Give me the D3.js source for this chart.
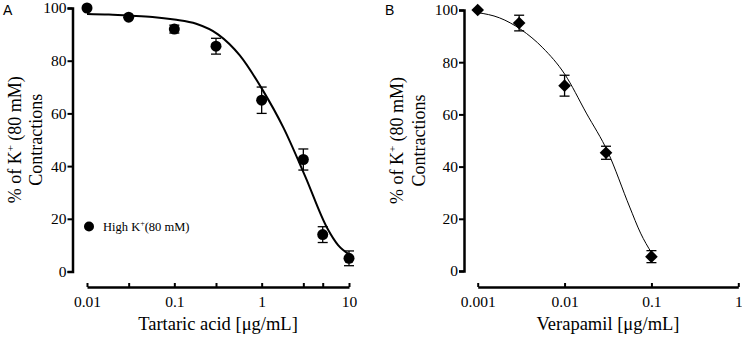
<!DOCTYPE html>
<html>
<head>
<meta charset="utf-8">
<script src="https://d3js.org/d3.v7.min.js"></script>
<style>
  body { margin: 0; background: #fff; }
  svg { display: block; }
  text { font-family: "Liberation Serif", "Times New Roman", serif; fill: #000; }
</style>
</head>
<body>
<svg id="drawing_region"></svg>
<script>
// panel A: tartaric acid against high K+ (80 mM)
const tartaricConc = [0.01, 0.03, 0.1, 0.3, 1, 3, 5, 10];
const tartaricMean = [100, 96.5, 92, 85.5, 65, 42.5, 14, 5];
const tartaricSem  = [0, 0, 1.5, 3, 5, 4, 3, 2.8];
// fitted curve
const tartaricCurveX = [0.01, 0.0178, 0.0316, 0.0562, 0.1, 0.178, 0.316, 0.562, 1, 1.78, 3.16, 5.62, 7.5, 10];
const tartaricCurveY = [97.7, 97.5, 97.1, 96.6, 95.6, 94, 90, 82, 69.5, 54.5, 36, 16.5, 10, 6.5];
const tartaricTicks  = [0.01, 0.03, 0.1, 0.3, 1, 3, 5, 10];
const tartaricLabels = [0.01, 0.1, 1, 10];

// panel B: verapamil
const verapamilConc = [0.001, 0.003, 0.01, 0.03, 0.1];
const verapamilMean = [100, 95, 71, 45.3, 5.5];
const verapamilSem  = [0, 3, 4, 2.5, 2.3];
const verapamilCurveX = [0.001, 0.00178, 0.00316, 0.00562, 0.01, 0.0178, 0.0316, 0.0562, 0.075, 0.1];
const verapamilCurveY = [99, 97, 92.5, 85.5, 75.5, 60.5, 45.5, 24.5, 14.5, 7];
const verapamilTicks  = [0.001, 0.01, 0.1, 1];
const verapamilLabels = [0.001, 0.01, 0.1, 1];

const yTicks = [0, 20, 40, 60, 80, 100];

const svg = d3.select('#drawing_region')
    .attr('width', 742)
    .attr('height', 338);

class DosePlot {

    constructor( config, data, curve ) {
        this.config = config;
        this.data = data;
        this.curve = curve;
        this.init();
    }

    init() {
        let self = this;
        const c = self.config;

        self.g = svg.append('g');

        self.xscale = d3.scaleLog()
            .domain( c.xdomain )
            .range( [c.left, c.right] );

        self.yscale = d3.scaleLinear()
            .domain( [0, 100] )
            .range( [c.bottom, c.top] );

        // panel letter
        self.g.append('text')
            .attr('x', c.letterX)
            .attr('y', 15)
            .style('font-family', '"Liberation Sans", Arial, sans-serif')
            .style('font-size', '14px')
            .text(c.letter);

        // y label, two lines
        const ymid = (c.top + c.bottom) / 2;
        const yl1 = self.g.append('text')
            .attr('transform', `translate(${c.ylabelX1}, ${ymid}) rotate(-90)`)
            .attr('text-anchor', 'middle')
            .style('font-size', '18px');
        yl1.append('tspan').text('% of K');
        yl1.append('tspan').attr('dy', -7).style('font-size', '11px').text('+');
        yl1.append('tspan').attr('dy', 7).text(' (80 mM)');

        self.g.append('text')
            .attr('transform', `translate(${c.ylabelX2}, ${ymid}) rotate(-90)`)
            .attr('text-anchor', 'middle')
            .style('font-size', '18px')
            .text('Contractions');

        // x label
        self.g.append('text')
            .attr('x', (c.left + c.right) / 2)
            .attr('y', 330)
            .attr('text-anchor', 'middle')
            .style('font-size', '18.5px')
            .text(c.xlabel);

        self.xaxis = d3.axisBottom( self.xscale )
            .tickValues( c.ticks )
            .tickFormat( d => c.labels.includes(d) ? String(d) : '' )
            .tickSizeInner( -4 )
            .tickSizeOuter( 0 )
            .tickPadding( 9 );

        self.yaxis = d3.axisLeft( self.yscale )
            .tickValues( yTicks )
            .tickSize( 5 )
            .tickPadding( 1 );
    }

    render() {
        let self = this;
        const c = self.config;

        const xg = self.g.append('g')
            .attr('transform', `translate(0, ${c.xaxisY})`)
            .call( self.xaxis );
        const yg = self.g.append('g')
            .attr('transform', `translate(${c.yaxisX}, 0)`)
            .call( self.yaxis );

        [xg, yg].forEach( ax => {
            ax.select('.domain').attr('stroke-width', 2.5);
            ax.selectAll('.tick line').attr('stroke-width', 2);
            ax.selectAll('.tick text')
                .style('font-family', '"Liberation Serif", "Times New Roman", serif')
                .style('font-size', '15.5px');
        });

        const line = d3.line()
            .x( d => self.xscale( d.x ) )
            .y( d => self.yscale( d.y ) )
            .curve( d3.curveMonotoneX );

        self.g.append('path')
            .datum( self.curve )
            .attr('d', line)
            .attr('fill', 'none')
            .attr('stroke', '#000')
            .attr('stroke-width', c.curveWidth);

        const err = self.g.append('g')
            .attr('stroke', '#000')
            .attr('stroke-width', 1.3)
            .selectAll('g')
            .data( self.data.filter( d => d.sem > 0 ) )
            .join('g');

        err.append('line')
            .attr('x1', d => self.xscale( d.x ) )
            .attr('x2', d => self.xscale( d.x ) )
            .attr('y1', d => self.yscale( d.y + d.sem ) )
            .attr('y2', d => self.yscale( d.y - d.sem ) );
        [1, -1].forEach( s => {
            err.append('line')
                .attr('x1', d => self.xscale( d.x ) - 5 )
                .attr('x2', d => self.xscale( d.x ) + 5 )
                .attr('y1', d => self.yscale( d.y + s * d.sem ) )
                .attr('y2', d => self.yscale( d.y + s * d.sem ) );
        });

        if ( c.marker === 'circle' ) {
            self.g.selectAll('circle.pt')
                .data( self.data )
                .join('circle')
                .attr('class', 'pt')
                .attr('cx', d => self.xscale( d.x ) )
                .attr('cy', d => self.yscale( d.y ) )
                .attr('r', 5.5);
        } else {
            self.g.selectAll('path.pt')
                .data( self.data )
                .join('path')
                .attr('class', 'pt')
                .attr('d', d3.symbol( d3.symbolSquare, 80 ))
                .attr('transform', d => `translate(${self.xscale( d.x )}, ${self.yscale( d.y )}) rotate(45)`);
        }
    }
}

const plotA = new DosePlot({
    letter: 'A', letterX: 3,
    xdomain: [0.01, 10], left: 87, right: 349,
    top: 8, bottom: 271.5,
    xaxisY: 287, yaxisX: 72.5,
    ylabelX1: 21, ylabelX2: 41.5,
    xlabel: 'Tartaric acid [\u03bcg/mL]',
    ticks: tartaricTicks, labels: tartaricLabels,
    marker: 'circle', curveWidth: 2
}, tartaricConc.map( (x, i) => ({ x: x, y: tartaricMean[i], sem: tartaricSem[i] }) ),
   tartaricCurveX.map( (x, i) => ({ x: x, y: tartaricCurveY[i] }) ));
plotA.render();

// legend in panel A
svg.append('circle').attr('cx', 89).attr('cy', 226.5).attr('r', 5);
const leg = svg.append('text').attr('x', 103).attr('y', 231).style('font-size', '12.5px');
leg.append('tspan').text('High K');
leg.append('tspan').attr('dy', -5).style('font-size', '8px').text('+');
leg.append('tspan').attr('dy', 5).text('(80 mM)');

const plotB = new DosePlot({
    letter: 'B', letterX: 385,
    xdomain: [0.001, 1], left: 477.7, right: 738.3,
    top: 10, bottom: 271,
    xaxisY: 287, yaxisX: 464,
    ylabelX1: 403, ylabelX2: 425,
    xlabel: 'Verapamil [\u03bcg/mL]',
    ticks: verapamilTicks, labels: verapamilLabels,
    marker: 'diamond', curveWidth: 1
}, verapamilConc.map( (x, i) => ({ x: x, y: verapamilMean[i], sem: verapamilSem[i] }) ),
   verapamilCurveX.map( (x, i) => ({ x: x, y: verapamilCurveY[i] }) ));
plotB.render();
</script>
</body>
</html>
